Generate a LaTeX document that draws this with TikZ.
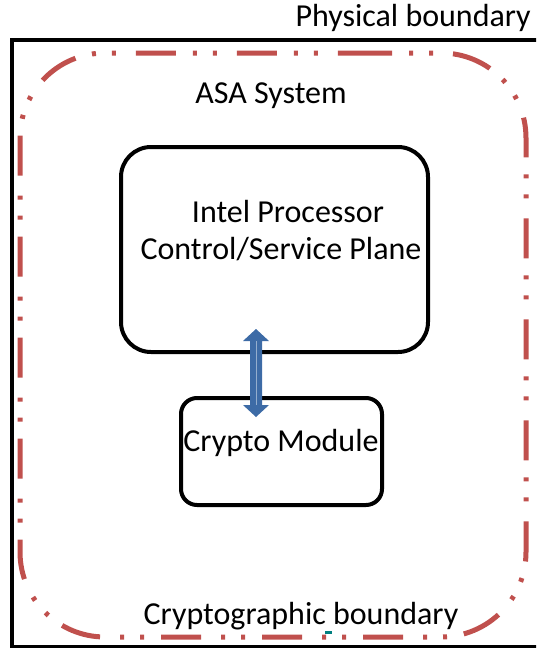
\documentclass[tikz,border=0pt]{standalone}
\usepackage{fontspec}
\setmainfont{Carlito}
\usetikzlibrary{calc,arrows.meta}

\begin{document}
\begin{tikzpicture}[x=1pt,y=-1pt,
  lbl/.style={font=\fontsize{32}{38}\selectfont,inner sep=0pt},
  blockbox/.style={draw,line width=4pt,align=center},
  cryptoline/.style={draw=cbred,line width=5pt,dash pattern=on 40pt off 17pt on 4pt off 16pt on 4pt off 20pt},
  bus/.style={draw=busblue!70!white,fill=busblue,line width=1pt}]
\definecolor{cbred}{HTML}{C0504D}
\definecolor{busblue}{HTML}{3D6BA6}
\useasboundingbox (0,0) rectangle (536,648);

\begin{scope}
\clip (0,0) rectangle (536,648);
\draw[line width=3.5pt] (12,40) rectangle (580,647);
\end{scope}
\node[lbl,anchor=east] (phys) at (531,18) {Physical boundary};

\draw[cryptoline,rounded corners=85pt] (267,53) -- (526,53) -- (526,637) -- (20,637) -- (20,53) -- cycle;
\node[lbl] (asa) at (271,96) {ASA System};
\node[lbl] (cbound) at (301,616) {Cryptographic boundary};
\fill[teal] (325,631) rectangle (332,634);

\draw[blockbox,rounded corners=30pt] (121,147) rectangle (428,352);
\node[lbl,align=center] (intel) at (281,231) {\hspace*{14pt}Intel Processor\\[-1pt]Control/Service Plane};
\draw[blockbox,rounded corners=16pt] (181,398) rectangle (382,505);
\node[lbl] (crypto) at (281,443) {Crypto Module};

\coordinate (top) at (256,329);
\coordinate (bot) at (256,417);
\fill[busblue] ($(top)+(-6,12)$) -- ($(top)+(-13,12)$) -- (top) -- ($(top)+(13,12)$) -- ($(top)+(6,12)$)
  -- ($(bot)+(6,-12)$) -- ($(bot)+(13,-12)$) -- (bot) -- ($(bot)+(-13,-12)$) -- ($(bot)+(-6,-12)$) -- cycle;
\draw[busblue!55!white,line width=0.8pt] ($(top)+(0,12)$) -- ($(bot)+(0,-12)$);

\end{tikzpicture}
\end{document}
